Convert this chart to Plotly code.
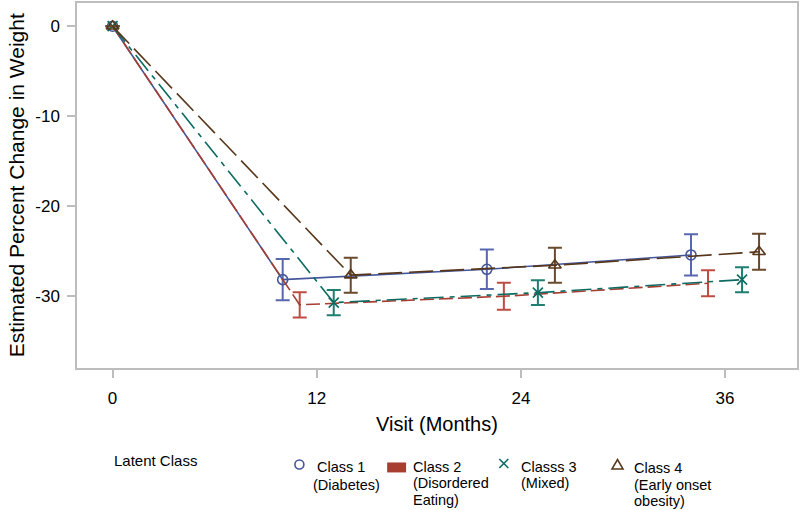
import plotly.graph_objects as go

# ---------------- data ----------------
visits = [0, 12, 24, 36]
dodge = [-2, -1, 1, 2]          # horizontal offset applied to post-baseline visits
class_names = ["Class 1", "Class 2", "Classs 3", "Class 4"]
class_sub = [["(Diabetes)"], ["(Disordered", "Eating)"], ["(Mixed)"], ["(Early onset", "obesity)"]]

class1 = [0, -28.2, -27.05, -25.45]
class2 = [0, -31.0, -30.05, -28.6]
class3 = [0, -30.75, -29.65, -28.2]
class4 = [0, -27.7, -26.6, -25.1]
err1 = [None, 2.3, 2.2, 2.3]
err2 = [None, 1.4, 1.5, 1.45]
err3 = [None, 1.4, 1.37, 1.39]
err4 = [None, 1.95, 1.95, 2.0]

yticks = [0, -10, -20, -30]
ytick_text = ["0", "-10", "-20", "-30"]
xtick_text = ["0", "12", "24", "36"]

# ---------------- styling ----------------
FONT = "Liberation Sans, Arial, sans-serif"
W, H = 800, 510
L, R, T, B = 77, 1, 1, 142
line_cols = ["#44569A", "#A83D32", "#0B6B60", "#57361A"]
err_cols = ["#5868AE", "#BE4C42", "#1F7E70", "#6A4A2C"]
dashes = ["solid", "14px,5px", "20px,6px,5px,6px", "24px,7px"]
symbols = ["circle-open", None, "x-thin", "triangle-up-open"]
sizes = [10, 0, 10, 11]

series = [class1, class2, class3, class4]
errs = [err1, err2, err3, err4]


def px_x(p):
    return (p - L) / (W - L - R)


def px_y(p):
    return (H - B - p) / (H - T - B)


fig = go.Figure()
for i, (ys, es) in enumerate(zip(series, errs)):
    xs = [v if v == 0 else v + dodge[i] for v in visits]
    mode = "lines+markers" if symbols[i] else "lines"
    marker = dict(symbol=symbols[i] or "circle", size=sizes[i] or 1,
                  color=line_cols[i], line=dict(width=1.6, color=line_cols[i]))
    fig.add_trace(go.Scatter(
        x=xs, y=ys, mode=mode,
        line=dict(color=line_cols[i], width=1.6, dash=dashes[i]),
        marker=marker,
        error_y=dict(type="data", array=es, visible=True, color=err_cols[i],
                     thickness=2, width=7),
        showlegend=False, name=class_names[i]))

axis_common = dict(showline=True, linecolor="#BDBDBD", linewidth=1.5, mirror=True,
                   ticks="outside", ticklen=8, tickcolor="#BDBDBD", tickwidth=1.5,
                   showgrid=False, zeroline=False,
                   tickfont=dict(family=FONT, size=17, color="#000000"))

fig.update_layout(
    width=W, height=H,
    margin=dict(l=L, r=R, t=T, b=B),
    paper_bgcolor="white", plot_bgcolor="white",
    font=dict(family=FONT, color="#000000"),
    xaxis=dict(range=[-2.09, 40.23], tickvals=visits, ticktext=xtick_text,
               ticklabelstandoff=6, **axis_common),
    yaxis=dict(range=[-38.03, 2.58], tickvals=yticks, ticktext=ytick_text,
               ticklabelstandoff=4, **axis_common),
)

ann = []
# axis titles
ann.append(dict(text="Visit (Months)", x=px_x(438), y=px_y(424), xref="paper", yref="paper",
                showarrow=False, font=dict(size=20, family=FONT), xanchor="center", yanchor="middle"))
ann.append(dict(text="Estimated Percent Change in Weight", x=px_x(16), y=px_y(184), xref="paper",
                yref="paper", showarrow=False, textangle=-90, font=dict(size=21, family=FONT),
                xanchor="center", yanchor="middle"))
# legend title
ann.append(dict(text="Latent Class", x=px_x(112), y=px_y(461), xref="paper", yref="paper",
                showarrow=False, font=dict(size=15, family=FONT), xanchor="left", yanchor="middle"))

# legend entries
LF = 14.5
text_left = [316, 412, 520, 634]
first_y = [467.5, 467.5, 467.5, 469]
sub_y = [[486], [484, 500.5], [484], [485.5, 502]]
for i in range(4):
    ann.append(dict(text=class_names[i], x=px_x(text_left[i]), y=px_y(first_y[i]), xref="paper",
                    yref="paper", showarrow=False, font=dict(size=LF, family=FONT),
                    xanchor="left", yanchor="middle"))
    for line, yy in zip(class_sub[i], sub_y[i]):
        ann.append(dict(text=line, x=px_x(text_left[i] - (4 if i == 0 else 0)), y=px_y(yy),
                        xref="paper", yref="paper", showarrow=False,
                        font=dict(size=LF, family=FONT), xanchor="left", yanchor="middle"))
fig.update_layout(annotations=ann)

shapes = []
# circle
cx, cy, r = 300, 465, 4.5
shapes.append(dict(type="circle", xref="paper", yref="paper", x0=px_x(cx - r), x1=px_x(cx + r),
                   y0=px_y(cy + r), y1=px_y(cy - r), line=dict(color=line_cols[0], width=1.6)))
# rectangle
shapes.append(dict(type="rect", xref="paper", yref="paper", x0=px_x(388), x1=px_x(407),
                   y0=px_y(473), y1=px_y(463), fillcolor=line_cols[1], line=dict(width=0)))
# x
xx, xy, d = 505, 464, 4.5
for a, b in [((xx - d, xy - d), (xx + d, xy + d)), ((xx - d, xy + d), (xx + d, xy - d))]:
    shapes.append(dict(type="line", xref="paper", yref="paper", x0=px_x(a[0]), y0=px_y(a[1]),
                       x1=px_x(b[0]), y1=px_y(b[1]), line=dict(color=line_cols[2], width=1.6)))
# triangle
tx, ty = 619, 465
path = "M {} {} L {} {} L {} {} Z".format(px_x(tx - 5.5), px_y(ty + 4.5), px_x(tx + 5.5),
                                           px_y(ty + 4.5), px_x(tx), px_y(ty - 5))
shapes.append(dict(type="path", xref="paper", yref="paper", path=path,
                   line=dict(color=line_cols[3], width=1.6)))
fig.update_layout(shapes=shapes)

fig.write_html("out.html", config={"displayModeBar": False},
               post_script="document.body.style.margin='0';document.body.style.overflow='hidden';")
